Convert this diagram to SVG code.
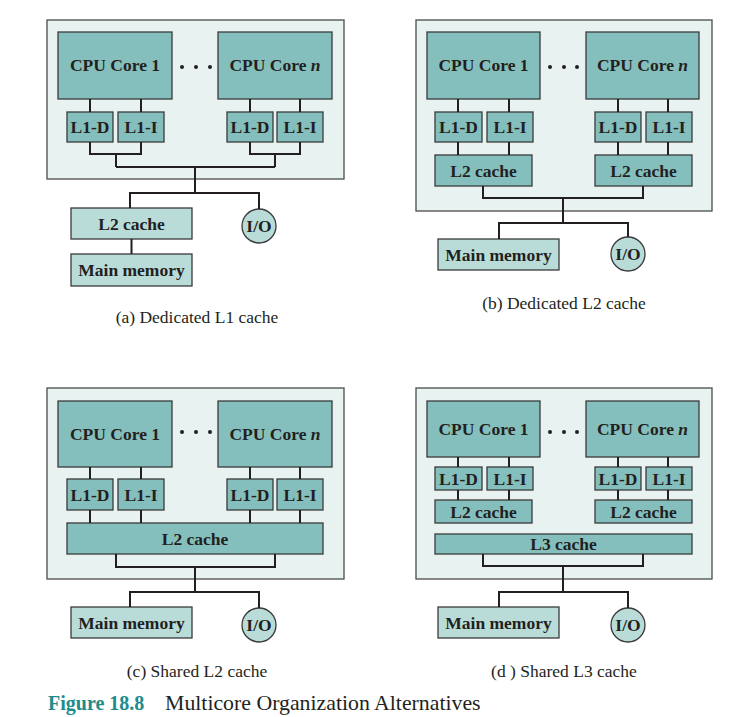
<svg xmlns="http://www.w3.org/2000/svg" width="752" height="717" viewBox="0 0 752 717">
<style>
.outer{fill:#e8f2f0;stroke:#4a4a4a;stroke-width:1.3}
.dark{fill:#85bfbd;stroke:#3a3a3a;stroke-width:1.3}
.light{fill:#b9dcd9;stroke:#3a3a3a;stroke-width:1.3}
.t{font-family:"Liberation Serif","Times New Roman",serif;font-weight:bold;font-size:17.5px;fill:#231f20;text-anchor:middle}
.cap{font-family:"Liberation Serif","Times New Roman",serif;font-size:17.5px;fill:#231f20;text-anchor:middle}
.ln{fill:none;stroke:#231f20;stroke-width:2}
.dot{fill:#231f20}
</style>
<rect width="752" height="717" fill="#ffffff"/>

<!-- Panel A -->
<g id="panelA">
<rect id="a-outer" class="outer" x="47" y="20" width="297" height="159"/>
<g id="a-core1"><rect class="dark" x="58" y="32" width="114" height="67"/><text class="t" x="115" y="71">CPU Core 1</text></g>
<g id="a-coren"><rect class="dark" x="218" y="32" width="114" height="67"/><text class="t" x="275" y="71">CPU Core <tspan font-style="italic">n</tspan></text></g>
<g id="a-dots"><circle class="dot" cx="182" cy="67" r="2"/><circle class="dot" cx="196" cy="67" r="2"/><circle class="dot" cx="210" cy="67" r="2"/></g>
<g id="a-l1d1"><rect class="dark" x="67" y="112" width="46" height="30"/><text class="t" x="90" y="133">L1-D</text></g>
<g id="a-l1i1"><rect class="dark" x="118" y="112" width="46" height="30"/><text class="t" x="141" y="133">L1-I</text></g>
<g id="a-l1dn"><rect class="dark" x="227" y="112" width="46" height="30"/><text class="t" x="250" y="133">L1-D</text></g>
<g id="a-l1in"><rect class="dark" x="277" y="112" width="46" height="30"/><text class="t" x="300" y="133">L1-I</text></g>
<g id="a-l2"><rect class="light" x="71" y="208" width="121" height="31"/><text class="t" x="131.5" y="229.5">L2 cache</text></g>
<g id="a-mem"><rect class="light" x="71" y="254" width="121" height="32"/><text class="t" x="131.5" y="276">Main memory</text></g>
<g id="a-io"><circle class="light" cx="259" cy="226" r="17"/><text class="t" x="259" y="232">I/O</text></g>
<text id="a-cap" class="cap" x="197" y="323">(a) Dedicated L1 cache</text>
</g>

<!-- Panel B -->
<g id="panelB">
<rect id="b-outer" class="outer" x="416" y="20" width="296" height="191"/>
<g id="b-core1"><rect class="dark" x="427" y="32" width="113" height="67"/><text class="t" x="483.5" y="71">CPU Core 1</text></g>
<g id="b-coren"><rect class="dark" x="586" y="32" width="113" height="67"/><text class="t" x="642.5" y="71">CPU Core <tspan font-style="italic">n</tspan></text></g>
<g id="b-dots"><circle class="dot" cx="550" cy="67" r="2"/><circle class="dot" cx="564" cy="67" r="2"/><circle class="dot" cx="577" cy="67" r="2"/></g>
<g id="b-l1d1"><rect class="dark" x="435" y="112" width="47" height="30"/><text class="t" x="458.5" y="133">L1-D</text></g>
<g id="b-l1i1"><rect class="dark" x="487" y="112" width="46" height="30"/><text class="t" x="510" y="133">L1-I</text></g>
<g id="b-l1dn"><rect class="dark" x="595" y="112" width="46" height="30"/><text class="t" x="618" y="133">L1-D</text></g>
<g id="b-l1in"><rect class="dark" x="646" y="112" width="46" height="30"/><text class="t" x="669" y="133">L1-I</text></g>
<g id="b-l21"><rect class="dark" x="435" y="155" width="97" height="31"/><text class="t" x="483.5" y="176.5">L2 cache</text></g>
<g id="b-l2n"><rect class="dark" x="595" y="155" width="97" height="31"/><text class="t" x="643.5" y="176.5">L2 cache</text></g>
<g id="b-mem"><rect class="light" x="438" y="239" width="121" height="31"/><text class="t" x="498.5" y="260.5">Main memory</text></g>
<g id="b-io"><circle class="light" cx="628" cy="254" r="17"/><text class="t" x="628" y="260">I/O</text></g>
<text id="b-cap" class="cap" x="564" y="309">(b) Dedicated L2 cache</text>
</g>

<!-- Panel C -->
<g id="panelC">
<rect id="c-outer" class="outer" x="47" y="388" width="297" height="191"/>
<g id="c-core1"><rect class="dark" x="58" y="401" width="114" height="66"/><text class="t" x="115" y="440">CPU Core 1</text></g>
<g id="c-coren"><rect class="dark" x="218" y="401" width="114" height="66"/><text class="t" x="275" y="440">CPU Core <tspan font-style="italic">n</tspan></text></g>
<g id="c-dots"><circle class="dot" cx="182" cy="432" r="2"/><circle class="dot" cx="196" cy="432" r="2"/><circle class="dot" cx="210" cy="432" r="2"/></g>
<g id="c-l1d1"><rect class="dark" x="67" y="479" width="46" height="31"/><text class="t" x="90" y="500.5">L1-D</text></g>
<g id="c-l1i1"><rect class="dark" x="118" y="479" width="46" height="31"/><text class="t" x="141" y="500.5">L1-I</text></g>
<g id="c-l1dn"><rect class="dark" x="227" y="479" width="46" height="31"/><text class="t" x="250" y="500.5">L1-D</text></g>
<g id="c-l1in"><rect class="dark" x="277" y="479" width="46" height="31"/><text class="t" x="300" y="500.5">L1-I</text></g>
<g id="c-l2"><rect class="dark" x="67" y="523" width="256" height="31"/><text class="t" x="195" y="544.5">L2 cache</text></g>
<g id="c-mem"><rect class="light" x="71" y="607" width="121" height="31"/><text class="t" x="131.5" y="628.5">Main memory</text></g>
<g id="c-io"><circle class="light" cx="259" cy="625" r="17"/><text class="t" x="259" y="631">I/O</text></g>
<text id="c-cap" class="cap" x="197" y="677">(c) Shared L2 cache</text>
</g>

<!-- Panel D -->
<g id="panelD">
<rect id="d-outer" class="outer" x="416" y="388" width="296" height="191"/>
<g id="d-core1"><rect class="dark" x="427" y="401" width="113" height="56"/><text class="t" x="483.5" y="435">CPU Core 1</text></g>
<g id="d-coren"><rect class="dark" x="586" y="401" width="113" height="56"/><text class="t" x="642.5" y="435">CPU Core <tspan font-style="italic">n</tspan></text></g>
<g id="d-dots"><circle class="dot" cx="550" cy="432" r="2"/><circle class="dot" cx="564" cy="432" r="2"/><circle class="dot" cx="577" cy="432" r="2"/></g>
<g id="d-l1d1"><rect class="dark" x="435" y="467" width="47" height="23"/><text class="t" x="458.5" y="484.5">L1-D</text></g>
<g id="d-l1i1"><rect class="dark" x="487" y="467" width="46" height="23"/><text class="t" x="510" y="484.5">L1-I</text></g>
<g id="d-l1dn"><rect class="dark" x="595" y="467" width="46" height="23"/><text class="t" x="618" y="484.5">L1-D</text></g>
<g id="d-l1in"><rect class="dark" x="646" y="467" width="46" height="23"/><text class="t" x="669" y="484.5">L1-I</text></g>
<g id="d-l21"><rect class="dark" x="435" y="500" width="97" height="23"/><text class="t" x="483.5" y="517.5">L2 cache</text></g>
<g id="d-l2n"><rect class="dark" x="595" y="500" width="97" height="23"/><text class="t" x="643.5" y="517.5">L2 cache</text></g>
<g id="d-l3"><rect class="dark" x="435" y="534" width="257" height="20"/><text class="t" x="563.5" y="550">L3 cache</text></g>
<g id="d-mem"><rect class="light" x="438" y="607" width="121" height="31"/><text class="t" x="498.5" y="628.5">Main memory</text></g>
<g id="d-io"><circle class="light" cx="628" cy="625" r="17"/><text class="t" x="628" y="631">I/O</text></g>
<text id="d-cap" class="cap" x="564" y="677">(d ) Shared L3 cache</text>
</g>

<!-- Connectors -->
<g id="connectors">
<!-- A -->
<path class="ln" d="M90 99V112M141 99V112M250 99V112M300 99V112"/>
<path class="ln" d="M90 142V154H141V142M116 154V167M250 142V154H300V142M275 154V167M116 167H275M195 167V193M130 208V193H259V209M131.5 239V254"/>
<!-- B -->
<path class="ln" d="M458 99V112M509 99V112M618 99V112M668 99V112"/>
<path class="ln" d="M458 142V155M509 142V155M618 142V155M668 142V155"/>
<path class="ln" d="M483 186V198H643V186M563 198V223M499 239V223H628V237"/>
<!-- C -->
<path class="ln" d="M90 467V479M141 467V479M250 467V479M300 467V479"/>
<path class="ln" d="M90 510V523M141 510V523M250 510V523M300 510V523"/>
<path class="ln" d="M116 554V567H275V554M195 567V592M130 607V592H259V608"/>
<!-- D -->
<path class="ln" d="M458 457V467M509 457V467M618 457V467M668 457V467"/>
<path class="ln" d="M458 490V500M509 490V500M618 490V500M668 490V500"/>
<path class="ln" d="M483 554V566H643V554M563 566V592M499 607V592H628V608"/>
</g>

<g id="figcaption">
<text x="48" y="710" font-family="'Liberation Serif','Times New Roman',serif" font-weight="bold" font-size="20px" fill="#1e8c8c">Figure 18.8</text>
<text x="165" y="710" font-family="'Liberation Serif','Times New Roman',serif" font-size="21.8px" fill="#231f20">Multicore Organization Alternatives</text>
</g>
</svg>
